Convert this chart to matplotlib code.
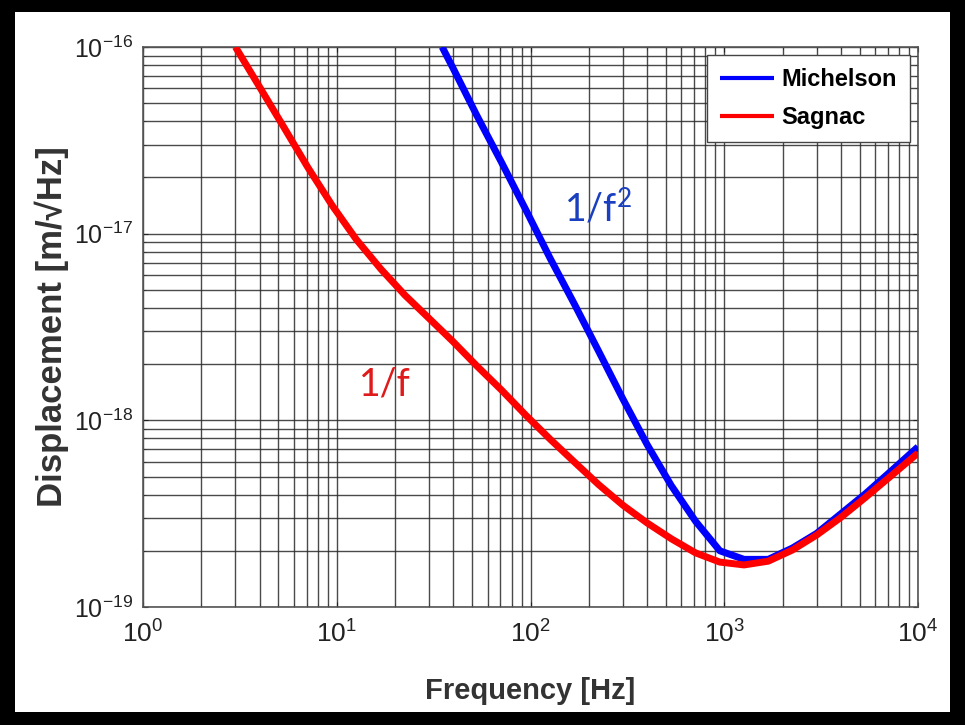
import matplotlib
matplotlib.use('Agg')
import matplotlib.pyplot as plt
from matplotlib.patches import Rectangle
from matplotlib.ticker import FixedLocator, LogLocator, NullFormatter

# values
freq_sagnac = [3.0, 4.0, 5.33, 7.1, 9.5, 12.6, 16.9, 22.5, 30, 40, 53, 71, 95, 126,
               169, 225, 300, 400, 533, 711, 949, 1265, 1687, 2249, 3000, 4000,
               5333, 7113, 10000]
disp_sagnac = [1.00e-16, 6.10e-17, 3.72e-17, 2.26e-17, 1.41e-17, 9.33e-18, 6.46e-18,
               4.68e-18, 3.51e-18, 2.63e-18, 1.95e-18, 1.45e-18, 1.06e-18, 7.94e-19,
               5.96e-19, 4.52e-19, 3.51e-19, 2.82e-19, 2.32e-19, 1.95e-19, 1.74e-19,
               1.68e-19, 1.76e-19, 2.02e-19, 2.43e-19, 3.02e-19, 3.85e-19, 4.95e-19,
               6.68e-19]

freq_michelson = [35, 40, 53, 71, 95, 126, 169, 225, 300, 400, 533, 711, 949, 1265,
                  1687, 2249, 3000, 4000, 5333, 7113, 10000]
disp_michelson = [1.00e-16, 7.64e-17, 4.27e-17, 2.40e-17, 1.33e-17, 7.41e-18, 4.17e-18,
                  2.34e-18, 1.30e-18, 7.41e-19, 4.47e-19, 2.88e-19, 2.00e-19, 1.80e-19,
                  1.80e-19, 2.07e-19, 2.48e-19, 3.16e-19, 4.03e-19, 5.25e-19, 7.21e-19]

x_major = [1, 10, 100, 1000, 10000]
y_major = [1e-19, 1e-18, 1e-17, 1e-16]

plt.rcParams['font.family'] = ['Liberation Sans', 'DejaVu Sans']
plt.rcParams['mathtext.fontset'] = 'custom'
plt.rcParams['mathtext.rm'] = 'Liberation Sans'
plt.rcParams['mathtext.default'] = 'regular'

fig = plt.figure(figsize=(9.65, 7.25), dpi=100, facecolor='black')
fig.patches.append(Rectangle((15 / 965, 13 / 725), (950 - 15) / 965, (713 - 13) / 725,
                             transform=fig.transFigure, facecolor='white',
                             edgecolor='none', zorder=-5))

ax = fig.add_axes([143 / 965, 118 / 725, 775 / 965, 560 / 725])
ax.set_zorder(2)
ax.set_xscale('log')
ax.set_yscale('log')
ax.set_xlim(1, 1e4)
ax.set_ylim(1e-19, 1e-16)

ax.plot(freq_michelson, disp_michelson, color='#0000ff', lw=5, label='Michelson',
        solid_capstyle='butt', solid_joinstyle='round', zorder=3)
ax.plot(freq_sagnac, disp_sagnac, color='#ff0000', lw=5, label='Sagnac',
        solid_capstyle='butt', solid_joinstyle='round', zorder=4)

ax.xaxis.set_major_locator(FixedLocator(x_major))
ax.yaxis.set_major_locator(FixedLocator(y_major))
ax.xaxis.set_minor_locator(LogLocator(base=10, subs=range(2, 10), numticks=20))
ax.yaxis.set_minor_locator(LogLocator(base=10, subs=range(2, 10), numticks=20))
ax.xaxis.set_minor_formatter(NullFormatter())
ax.yaxis.set_minor_formatter(NullFormatter())

ax.grid(True, which='both', color='#2a2a2a', lw=1.0, alpha=0.85)
ax.set_axisbelow(True)
ax.tick_params(which='both', direction='in', top=True, right=True, color='#333333')
ax.tick_params(axis='x', labelsize=19, pad=10, colors='#222222')
ax.tick_params(axis='y', labelsize=18, pad=7, colors='#222222')
for s in ax.spines.values():
    s.set_color('#555555')
    s.set_linewidth(1.2)

ax.set_xlabel('Frequency [Hz]', fontsize=21, fontweight='bold', color='#333333', labelpad=21)
ax.set_ylabel('Displacement [m/\u221aHz]', fontsize=25, fontweight='bold', color='#333333', labelpad=4)

ax.text(223, 1.37e-17, '1/f$^2$', color='#1a3fbf', fontsize=27, ha='center', va='center',
        family=['Lato', 'DejaVu Sans'], zorder=5)
ax.text(17.7, 1.55e-18, '1/f', color='#e01a1a', fontsize=27, ha='center', va='center',
        family=['Lato', 'DejaVu Sans'], zorder=5)

leg = ax.legend(loc='upper right', bbox_to_anchor=(0.9897, 0.9857), borderaxespad=0,
                prop={'weight': 'bold', 'size': 17}, fancybox=False, framealpha=1,
                edgecolor='#444444', handlelength=2.3, borderpad=0.55, labelspacing=0.65,
                handletextpad=0.3)
leg.get_frame().set_linewidth(1.0)
for ln in leg.get_lines():
    ln.set_linewidth(3)

fig.savefig('out.png', dpi=100, facecolor=fig.get_facecolor())
